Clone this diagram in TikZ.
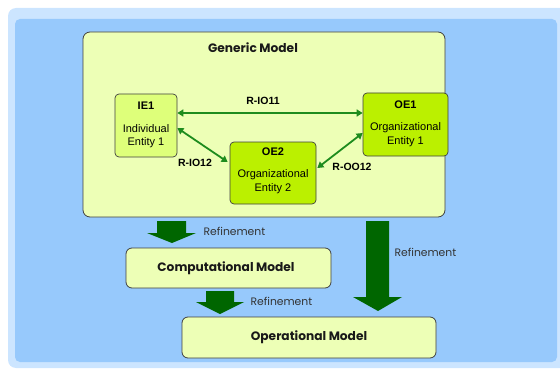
\documentclass[tikz,border=0pt]{standalone}
\usepackage{fontspec}
\setmainfont{Liberation Sans}
\newfontfamily\gothic{Poppins}
\usetikzlibrary{arrows.meta,calc}
\definecolor{bglight}{HTML}{CCE5FF}
\definecolor{bgblue}{HTML}{97C9FC}
\definecolor{genfill}{HTML}{EDFFB6}
\definecolor{iefill}{HTML}{DEFF7A}
\definecolor{oefill}{HTML}{BBF000}
\definecolor{darkarrow}{HTML}{006600}
\definecolor{relgreen}{HTML}{1E8C1E}
\definecolor{boxline}{HTML}{404040}
\tikzset{
  modelbox/.style={draw=boxline, line width=0.8pt, fill=genfill, rounded corners=7pt, inner sep=0pt},
  iebox/.style={draw=boxline, line width=0.7pt, fill=iefill, rounded corners=4pt, inner sep=0pt},
  oebox/.style={draw=boxline, line width=0.7pt, fill=oefill, rounded corners=4pt, inner sep=0pt},
  modeltitle/.style={font=\gothic\bfseries\fontsize{12.2}{14}\selectfont, text=black!90},
  enttitle/.style={font=\bfseries\fontsize{11}{13}\selectfont},
  enttext/.style={font=\fontsize{11}{13.5}\selectfont, align=center},
  rellabel/.style={font=\bfseries\fontsize{10.5}{12}\selectfont},
  rel/.style={draw=relgreen, line width=1.8pt, {Triangle[length=6pt,width=7pt]}-{Triangle[length=6pt,width=7pt]}},
  refine/.style={fill=darkarrow},
  refinelabel/.style={font=\gothic\fontsize{10.8}{12}\selectfont, text=black!80, anchor=west},
}
\begin{document}
\begin{tikzpicture}[x=1pt,y=-1pt]
\useasboundingbox (0,0) rectangle (560,369);
% background panels
\fill[bglight, rounded corners=8pt] (8,8) rectangle (575,368);
\fill[bgblue, rounded corners=5pt] (15,19) rectangle (557,362);
% generic model
\node[modelbox, minimum width=362pt, minimum height=185pt] (gen) at (264,124.5) {};
\node[modeltitle] (gentitle) at (253,47.5) {Generic Model};
% entities
\node[iebox, minimum width=62pt, minimum height=63pt] (ie1) at (146,125.5) {};
\node[enttitle] (ie1t) at (146,106) {IE1};
\node[enttext] (ie1d) at (146,136) {Individual\\Entity 1};
\node[oebox, minimum width=85pt, minimum height=63pt] (oe1) at (405.5,124.5) {};
\node[enttitle] (oe1t) at (405.5,105) {OE1};
\node[enttext] (oe1d) at (405.5,134.5) {Organizational\\Entity 1};
\node[oebox, minimum width=86pt, minimum height=62pt] (oe2) at (273,173) {};
\node[enttitle] (oe2t) at (273,152) {OE2};
\node[enttext] (oe2d) at (273,181.5) {Organizational\\Entity 2};
% relations
\draw[rel] ([yshift=12.5pt]ie1.east) -- ([yshift=11.5pt]oe1.west);
\draw[rel] ([yshift=-2.5pt]ie1.east) -- ([xshift=-2pt,yshift=11pt]oe2.west);
\draw[rel] ([xshift=1pt,yshift=5pt]oe2.east) -- ([yshift=-8.5pt]oe1.west);
\node[rellabel] (l11) at (263,101) {R-IO11};
\node[rellabel] (l12) at (195,163) {R-IO12};
\node[rellabel] (lo12) at (352,167) {R-OO12};
% refined models
\node[modelbox, rounded corners=6pt, minimum width=205pt, minimum height=40pt] (comp) at (228.5,268) {};
\node[modeltitle] (compt) at (226,268) {Computational Model};
\node[modelbox, rounded corners=6pt, minimum width=254pt, minimum height=41pt] (oper) at (309,337.5) {};
\node[modeltitle] (opert) at (309,337.5) {Operational Model};
% refinement arrows
\fill[refine] (157,221) -- (186,221) -- (186,233) -- (196,233) -- (172,243) -- (147,233) -- (157,233) -- cycle;
\fill[refine] (206,291) -- (234,291) -- (234,302) -- (244,302) -- (220,314) -- (196,302) -- (206,302) -- cycle;
\fill[refine] (366,221) -- (389,221) -- (389,297) -- (402,297) -- (378,311) -- (353,297) -- (366,297) -- cycle;
\node[refinelabel] (r1) at (200,231) {Refinement};
\node[refinelabel] (r2) at (247,301) {Refinement};
\node[refinelabel] (r3) at (391,252) {Refinement};
\end{tikzpicture}
\end{document}
